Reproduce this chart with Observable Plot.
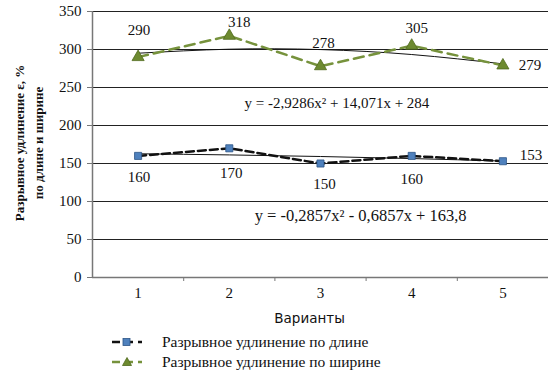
<!DOCTYPE html>
<html><head><meta charset="utf-8">
<script src="https://cdn.jsdelivr.net/npm/d3@7"></script>
<script src="https://cdn.jsdelivr.net/npm/@observablehq/plot@0.6"></script>
<style>
body{margin:0;background:#fff;}
#chart{position:relative;width:548px;height:385px;overflow:hidden;}
#chart svg text{font-family:"Liberation Serif","Times New Roman",serif !important;}
#chart svg text.sans{font-family:"DejaVu Sans",Verdana,sans-serif !important;}
.leg{position:absolute;left:112px;height:18px;display:flex;align-items:center;font-family:"Liberation Serif","Times New Roman",serif;font-size:15.5px;color:#111;white-space:nowrap;}
.leg svg{margin-right:20px;}
.ytitle{position:absolute;font-family:"Liberation Serif","Times New Roman",serif;font-weight:bold;font-size:13px;color:#111;white-space:nowrap;transform:translate(-50%,-50%) rotate(-90deg);}
</style></head><body><div id="chart"></div>
<script>
const variants = [1, 2, 3, 4, 5];
const lengthVals = [160, 170, 150, 160, 153];
const widthVals = [290, 318, 278, 305, 279];
const lengthTrend = [162.8, 161.3, 159.2, 156.5, 153.2];
const widthTrend = [295.1, 300.4, 299.9, 293.4, 281.1];
const yTicks = [0, 50, 100, 150, 200, 250, 300, 350];
const eqWidth = "y = -2,9286x² + 14,071x + 284";
const eqLength = "y = -0,2857x² - 0,6857x + 163,8";
const seriesNames = ["Разрывное удлинение по длине", "Разрывное удлинение по ширине"];
const yTitle = ["Разрывное удлинение ε, %", "по длине и ширине"];
const xTitle = "Варианты";

// layout-only label offsets (px)
const widthOff = [[1,-27],[10,-14],[3,-23],[5,-18],[27,0]];
const lengthOff = [[1,21],[2,25],[4,21],[0,23],[28,-6]];

const labelFont = {fontSize: 15, fill: "#111"};
const labelMarks = [];
variants.forEach((v, i) => {
  labelMarks.push(Plot.text([widthVals[i]], {x: () => v, y: d => d, text: d => String(d), dx: widthOff[i][0], dy: widthOff[i][1], ...labelFont}));
  labelMarks.push(Plot.text([lengthVals[i]], {x: () => v, y: d => d, text: d => String(d), dx: lengthOff[i][0], dy: lengthOff[i][1], ...labelFont}));
});

const chart = Plot.plot({
  width: 548, height: 330,
  marginLeft: 92, marginRight: 0, marginTop: 11, marginBottom: 53,
  style: {fontSize: "15px", color: "#111", background: "#fff"},
  x: {domain: [0.5, 5.5]},
  y: {domain: [0, 350]},
  marks: [
    Plot.ruleY(yTicks.filter(d => d > 0), {stroke: "#222", strokeWidth: 1}),
    Plot.axisY(yTicks, {tickSize: 5, tickPadding: 6, stroke: "#777", label: null, fontSize: 15}),
    Plot.axisX([1.5, 2.5, 3.5, 4.5, 5.5], {tickSize: 4, stroke: "#777", tickFormat: () => "", label: null}),
    Plot.axisX(variants, {tickSize: 0, tickPadding: 10, label: null, fontSize: 15}),
    Plot.ruleX([0.5], {stroke: "#777", strokeWidth: 1.5}),
    Plot.ruleY([0], {stroke: "#777", strokeWidth: 1.5}),
    // trend lines
    Plot.line(variants, {x: d => d, y: (d, i) => widthTrend[i], stroke: "#111", strokeWidth: 1, curve: "natural"}),
    Plot.line(variants, {x: d => d, y: (d, i) => lengthTrend[i], stroke: "#111", strokeWidth: 1, curve: "natural"}),
    // data lines
    Plot.line(variants, {x: d => d, y: (d, i) => widthVals[i], stroke: "#76923c", strokeWidth: 2.5, strokeDasharray: "10,6"}),
    Plot.line(variants, {x: d => d, y: (d, i) => lengthVals[i], stroke: "#111", strokeWidth: 2.5, strokeDasharray: "8,4"}),
    Plot.dot(variants, {x: d => d, y: (d, i) => widthVals[i], symbol: "triangle", r: 4.5, fill: "#6d8a30", stroke: "#4f6a1c", strokeWidth: 0.8}),
    Plot.dot(variants, {x: d => d, y: (d, i) => lengthVals[i], symbol: "square", r: 4, fill: "#4f81bd", stroke: "#2c5486", strokeWidth: 0.8}),
    ...labelMarks,
    Plot.text([eqWidth], {x: () => 3.18, y: () => 229, text: d => d, fontSize: 15, fill: "#111"}),
    Plot.text([eqLength], {x: () => 3.44, y: () => 81, text: d => d, fontSize: 16.5, fill: "#111"}),
    Plot.text([xTitle], {frameAnchor: "bottom", dy: 45, x: () => 2.88, text: d => d, fontSize: 13.5, fill: "#111"})
  ]
});
const root = document.getElementById("chart");
root.appendChild(chart);
d3.select(chart).selectAll("text").filter(function() { return this.textContent === xTitle; }).classed("sans", true);

function yTitleLine(text, cx, cy) {
  const d = document.createElement("div");
  d.className = "ytitle";
  d.style.left = cx + "px";
  d.style.top = cy + "px";
  d.textContent = text;
  root.appendChild(d);
}
yTitleLine(yTitle[0], 20, 143);
yTitleLine(yTitle[1], 39, 143);

function legendItem(name, top, kind) {
  const div = document.createElement("div");
  div.className = "leg";
  div.style.top = top + "px";
  let sym;
  if (kind === 0) {
    sym = `<svg width="30" height="12"><line x1="0" y1="6" x2="30" y2="6" stroke="#111" stroke-width="2.5" stroke-dasharray="8,5"/><rect x="11" y="2.5" width="7" height="7" fill="#4f81bd" stroke="#2c5486" stroke-width="0.8"/></svg>`;
  } else {
    sym = `<svg width="30" height="12"><line x1="0" y1="6" x2="30" y2="6" stroke="#76923c" stroke-width="2.5" stroke-dasharray="8,5"/><polygon points="15,1.5 19.5,9.5 10.5,9.5" fill="#6d8a30" stroke="#4f6a1c" stroke-width="0.8"/></svg>`;
  }
  div.innerHTML = sym + `<span>${name}</span>`;
  root.appendChild(div);
}
legendItem(seriesNames[0], 333, 0);
legendItem(seriesNames[1], 353, 1);
</script>
</body></html>
